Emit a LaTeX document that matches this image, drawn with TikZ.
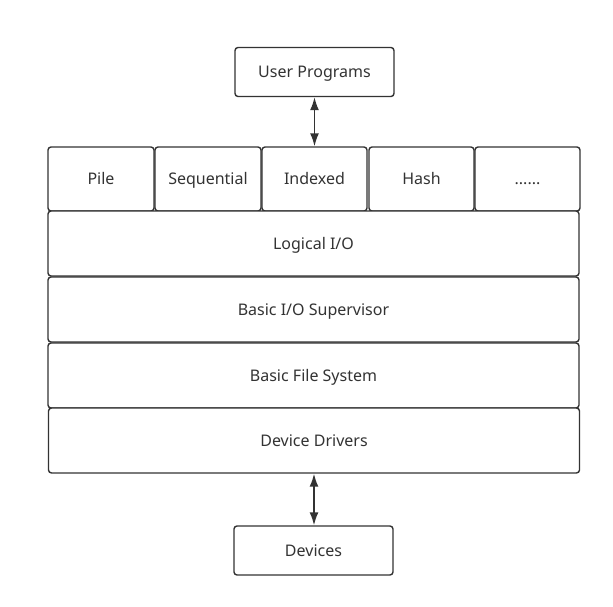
\documentclass[tikz,border=0pt]{standalone}
\usepackage{fontspec}
\setmainfont{Noto Sans}
\usetikzlibrary{arrows.meta}
\definecolor{ink}{HTML}{333333}
\begin{document}
\begin{tikzpicture}[x=1pt,y=-1pt,
  box/.style={draw=ink, line width=1.4pt, rounded corners=3pt, fill=white, text=ink,
    font=\fontsize{16}{19}\selectfont, inner sep=0pt, anchor=center,
    text height=11pt, text depth=0pt},
  link/.style={draw=ink, line width=1.6pt, {Latex[length=13pt,width=9pt]}-{Latex[length=13pt,width=9pt]}}]
\useasboundingbox (0,0) rectangle (613,607);
\fill[white] (0,0) rectangle (613,607);
\node[box, minimum width=159pt, minimum height=49pt] (up) at (314.5,72) {User Programs};
\node[box, minimum width=106pt, minimum height=64pt] (pile) at (101,179) {Pile};
\node[box, minimum width=106pt, minimum height=64pt] (seq) at (208,179) {Sequential};
\node[box, minimum width=105pt, minimum height=64pt] (idx) at (314.5,179) {Indexed};
\node[box, minimum width=105pt, minimum height=64pt] (hash) at (421.5,179) {Hash};
\node[box, minimum width=105pt, minimum height=64pt] (dots) at (527.5,179) {......};
\node[box, minimum width=531pt, minimum height=65pt] (log) at (313.5,243.5) {Logical I/O};
\node[box, minimum width=531pt, minimum height=65pt] (bios) at (313.5,309.5) {Basic I/O Supervisor};
\node[box, minimum width=531pt, minimum height=65pt] (bfs) at (313.5,375.5) {Basic File System};
\node[box, minimum width=531pt, minimum height=65pt] (dd) at (314,440.5) {Device Drivers};
\node[box, minimum width=159pt, minimum height=49pt] (dev) at (313.5,550.5) {Devices};
\draw[link] (up.south) -- (idx.north);
\draw[link] (dd.south) -- (dd.south |- dev.north);
\end{tikzpicture}
\end{document}
